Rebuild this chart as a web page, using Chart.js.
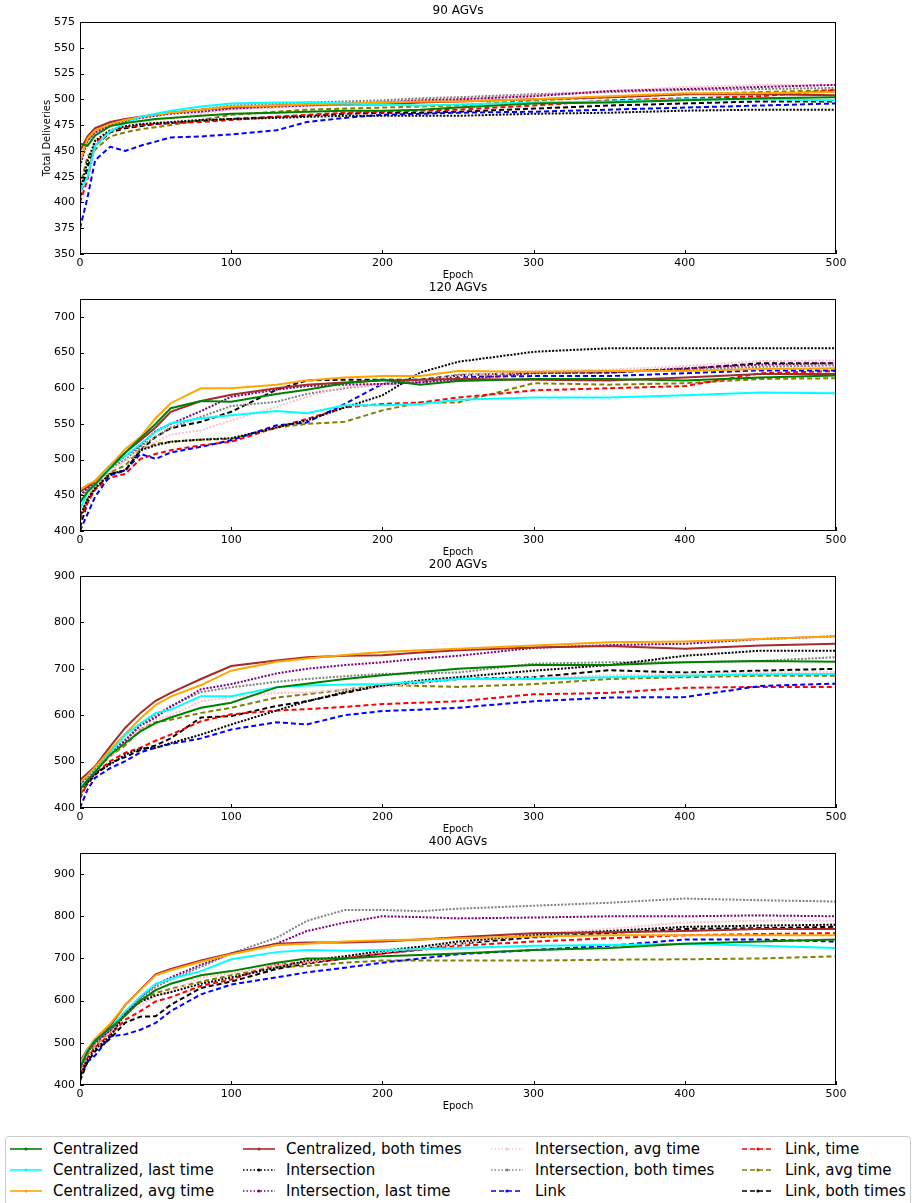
<!DOCTYPE html>
<html>
<head>
<meta charset="utf-8">
<script src="https://cdn.jsdelivr.net/npm/chart.js@4.4.0/dist/chart.umd.min.js"></script>
<style>
body { margin: 0; background: #fff; width: 912px; height: 1203px; position: relative; overflow: hidden; font-family: "DejaVu Sans", sans-serif; }
.panel { position: absolute; left: 0; width: 912px; height: 285px; }
#legend { position: absolute; left: 5px; top: 1136px; width: 906px; height: 80px; border: 1px solid #ccc; border-radius: 4px; box-sizing: border-box; }
.item { position: absolute; height: 20px; font-size: 15px; line-height: 20px; color: #000; white-space: nowrap; }
.swatch { position: absolute; }
</style>
</head>
<body>
<canvas id="panel0" class="panel" width="912" height="285" style="top:0px"></canvas>
<canvas id="panel1" class="panel" width="912" height="285" style="top:277px"></canvas>
<canvas id="panel2" class="panel" width="912" height="285" style="top:554px"></canvas>
<canvas id="panel3" class="panel" width="912" height="285" style="top:831px"></canvas>
<div id="legend"></div>
<script>
// Sampled epochs shared by every series
const EPOCHS = [0, 5, 10, 20, 30, 40, 50, 60, 80, 100, 130, 150, 175, 200, 225, 250, 300, 350, 400, 450, 500];
const X_TICKS = [0, 100, 200, 300, 400, 500];

const SERIES_NAMES = [
    'Centralized', 'Centralized, last time', 'Centralized, avg time', 'Centralized, both times',
    'Intersection', 'Intersection, last time', 'Intersection, avg time', 'Intersection, both times',
    'Link', 'Link, time', 'Link, avg time', 'Link, both times'
];
const SERIES_COLORS = ['#008000', '#00ffff', '#ffa500', '#a52a2a', '#000000', '#800080',
    '#ffc0cb', '#808080', '#0000ff', '#ff0000', '#808000', '#000000'];
const SERIES_STYLE = ['solid', 'solid', 'solid', 'solid', 'dotted', 'dotted',
    'dotted', 'dotted', 'dashed', 'dashed', 'dashed', 'dashed'];

// ---- 90 AGVs ----
const agv90Ticks = [350, 375, 400, 425, 450, 475, 500, 525, 550, 575];
const agv90Range = [350, 575];
const agv90Central     = [457, 455, 465, 474, 477, 479, 481, 482, 484, 486, 487, 488, 489, 489, 490, 492, 496, 497, 499, 501, 502];
const agv90CentralLast = [410, 425, 455, 469, 477, 483, 486, 489, 493, 496, 497, 497, 496, 495, 494, 495, 497, 498, 500, 500, 499];
const agv90CentralAvg  = [440, 462, 470, 476, 480, 483, 485, 487, 490, 493, 494, 495, 496, 497, 498, 498, 500, 503, 506, 506, 507];
const agv90CentralBoth = [450, 464, 472, 478, 481, 483, 485, 487, 490, 492, 494, 495, 495, 495, 497, 498, 500, 502, 505, 505, 504];
const agv90Inter       = [410, 440, 460, 470, 474, 476, 477, 478, 480, 481, 482, 483, 484, 484, 484, 484, 486, 487, 489, 490, 490];
const agv90InterLast   = [435, 460, 468, 475, 479, 482, 484, 486, 488, 491, 493, 494, 496, 497, 499, 500, 503, 508, 510, 512, 514];
const agv90InterAvg    = [445, 463, 469, 474, 477, 479, 480, 482, 486, 490, 492, 493, 495, 497, 499, 500, 504, 508, 512, 514, 514];
const agv90InterBoth   = [440, 460, 468, 476, 480, 483, 485, 487, 490, 494, 496, 497, 498, 499, 501, 502, 505, 507, 509, 510, 511];
const agv90Link        = [375, 405, 441, 454, 450, 455, 459, 463, 464, 466, 470, 478, 482, 485, 486, 487, 488, 490, 492, 494, 496];
const agv90LinkTime    = [400, 422, 458, 469, 473, 475, 476, 477, 478, 480, 483, 485, 487, 488, 489, 490, 494, 499, 501, 503, 509];
const agv90LinkAvg     = [415, 445, 451, 464, 468, 471, 473, 475, 480, 485, 488, 490, 491, 492, 493, 494, 499, 502, 505, 507, 509];
const agv90LinkBoth    = [405, 434, 455, 468, 472, 474, 476, 477, 479, 481, 483, 484, 486, 487, 487, 488, 491, 494, 496, 498, 498];

// ---- 120 AGVs ----
const agv120Ticks = [400, 450, 500, 550, 600, 650, 700];
const agv120Range = [400, 725];
const agv120Central     = [440, 455, 465, 488, 510, 530, 550, 572, 582, 581, 592, 598, 607, 612, 605, 610, 613, 613, 611, 615, 618];
const agv120CentralLast = [430, 455, 465, 490, 505, 522, 539, 551, 558, 562, 568, 565, 576, 576, 578, 584, 587, 587, 590, 594, 593];
const agv120CentralAvg  = [458, 465, 470, 492, 515, 532, 558, 579, 600, 600, 605, 611, 615, 617, 617, 624, 623, 624, 624, 627, 628];
const agv120CentralBoth = [455, 462, 470, 492, 510, 527, 545, 567, 582, 591, 600, 605, 608, 611, 612, 613, 612, 611, 615, 620, 620];
const agv120Inter       = [420, 445, 460, 480, 485, 513, 520, 525, 528, 530, 545, 555, 573, 590, 622, 637, 651, 656, 656, 656, 656];
const agv120InterLast   = [450, 460, 468, 490, 505, 520, 540, 550, 568, 588, 598, 603, 605, 606, 608, 612, 621, 622, 628, 633, 635];
const agv120InterAvg    = [440, 452, 462, 485, 498, 513, 525, 535, 541, 555, 574, 588, 602, 605, 610, 617, 624, 626, 631, 638, 639];
const agv120InterBoth   = [445, 458, 468, 488, 500, 518, 532, 545, 560, 575, 581, 592, 600, 606, 610, 619, 622, 624, 626, 630, 632];
const agv120Link        = [400, 424, 448, 478, 485, 508, 501, 510, 518, 527, 548, 552, 578, 606, 609, 616, 617, 617, 621, 625, 625];
const agv120LinkTime    = [415, 440, 458, 475, 480, 501, 508, 513, 520, 525, 545, 557, 573, 578, 580, 587, 597, 600, 603, 621, 624];
const agv120LinkAvg     = [420, 445, 462, 482, 492, 515, 522, 525, 528, 529, 545, 550, 553, 569, 580, 580, 607, 605, 607, 613, 614];
const agv120LinkBoth    = [405, 440, 460, 480, 485, 513, 532, 544, 553, 567, 598, 611, 612, 612, 612, 618, 622, 622, 627, 635, 635];

// ---- 200 AGVs ----
const agv200Ticks = [400, 500, 600, 700, 800, 900];
const agv200Range = [400, 900];
const agv200Central     = [440, 460, 478, 515, 540, 565, 583, 595, 616, 627, 660, 668, 678, 686, 693, 700, 708, 708, 714, 717, 715];
const agv200CentralLast = [445, 462, 480, 519, 558, 582, 605, 612, 641, 641, 660, 664, 666, 667, 672, 678, 678, 682, 685, 688, 689];
const agv200CentralAvg  = [455, 470, 488, 525, 560, 593, 622, 640, 665, 696, 715, 722, 730, 736, 740, 743, 750, 757, 759, 764, 770];
const agv200CentralBoth = [460, 475, 490, 533, 573, 605, 631, 648, 678, 706, 718, 725, 728, 729, 735, 740, 746, 749, 743, 750, 754];
const agv200Inter       = [440, 455, 475, 494, 515, 528, 530, 540, 558, 580, 610, 630, 650, 664, 675, 682, 696, 708, 728, 739, 739];
const agv200InterLast   = [450, 468, 485, 520, 545, 578, 595, 618, 656, 667, 690, 700, 708, 714, 722, 728, 745, 751, 754, 764, 770];
const agv200InterAvg    = [445, 460, 478, 512, 540, 570, 590, 600, 630, 639, 648, 649, 655, 661, 668, 678, 681, 686, 689, 692, 693];
const agv200InterBoth   = [450, 465, 482, 518, 548, 580, 600, 620, 650, 660, 672, 678, 684, 689, 690, 692, 711, 714, 714, 717, 725];
const agv200Link        = [400, 440, 465, 486, 501, 520, 530, 538, 550, 569, 585, 580, 600, 609, 612, 616, 630, 638, 639, 663, 668];
const agv200LinkTime    = [420, 455, 475, 501, 519, 530, 545, 558, 587, 602, 610, 613, 618, 624, 627, 630, 645, 648, 659, 661, 661];
const agv200LinkAvg     = [430, 455, 480, 512, 535, 570, 585, 590, 605, 616, 638, 645, 655, 665, 663, 661, 667, 678, 682, 685, 685];
const agv200LinkBoth    = [430, 452, 472, 497, 510, 525, 535, 550, 595, 598, 620, 630, 648, 664, 670, 678, 682, 697, 692, 696, 700];

// ---- 400 AGVs ----
const agv400Ticks = [400, 500, 600, 700, 800, 900];
const agv400Range = [400, 950];
const agv400Central     = [440, 480, 505, 535, 565, 600, 625, 640, 660, 670, 690, 700, 700, 705, 708, 712, 720, 725, 735, 740, 745];
const agv400CentralLast = [445, 482, 505, 535, 575, 610, 640, 652, 670, 698, 715, 720, 718, 720, 722, 725, 730, 732, 735, 730, 725];
const agv400CentralAvg  = [450, 485, 510, 545, 590, 625, 660, 672, 692, 710, 732, 735, 740, 743, 745, 748, 752, 755, 755, 755, 755];
const agv400CentralBoth = [455, 485, 508, 540, 590, 626, 662, 675, 695, 712, 735, 738, 738, 740, 745, 750, 760, 762, 765, 770, 770];
const agv400Inter       = [420, 460, 485, 515, 570, 598, 612, 620, 640, 655, 678, 695, 705, 718, 728, 740, 755, 765, 775, 778, 780];
const agv400InterLast   = [440, 478, 500, 530, 570, 608, 638, 655, 685, 712, 735, 765, 785, 800, 798, 795, 797, 800, 800, 802, 800];
const agv400InterAvg    = [440, 475, 498, 525, 565, 590, 610, 622, 655, 665, 685, 690, 705, 715, 725, 735, 758, 770, 785, 790, 790];
const agv400InterBoth   = [445, 478, 502, 528, 570, 605, 632, 650, 680, 712, 749, 789, 815, 815, 812, 818, 825, 832, 842, 838, 835];
const agv400Link        = [420, 455, 470, 515, 520, 531, 547, 575, 615, 638, 655, 667, 678, 690, 700, 710, 720, 730, 745, 745, 740];
const agv400LinkTime    = [425, 465, 490, 520, 555, 575, 598, 608, 635, 650, 686, 690, 700, 712, 720, 730, 740, 748, 755, 758, 760];
const agv400LinkAvg     = [435, 472, 495, 525, 568, 598, 618, 628, 645, 660, 680, 682, 690, 695, 695, 695, 695, 697, 698, 700, 705];
const agv400LinkBoth    = [410, 455, 480, 510, 548, 562, 563, 590, 630, 645, 675, 688, 700, 712, 722, 735, 750, 760, 770, 772, 775];

const panels = [
    { title: '90 AGVs', yTitle: 'Total Deliveries', ticks: agv90Ticks, range: agv90Range,
      series: [agv90Central, agv90CentralLast, agv90CentralAvg, agv90CentralBoth, agv90Inter, agv90InterLast,
               agv90InterAvg, agv90InterBoth, agv90Link, agv90LinkTime, agv90LinkAvg, agv90LinkBoth] },
    { title: '120 AGVs', yTitle: '', ticks: agv120Ticks, range: agv120Range,
      series: [agv120Central, agv120CentralLast, agv120CentralAvg, agv120CentralBoth, agv120Inter, agv120InterLast,
               agv120InterAvg, agv120InterBoth, agv120Link, agv120LinkTime, agv120LinkAvg, agv120LinkBoth] },
    { title: '200 AGVs', yTitle: '', ticks: agv200Ticks, range: agv200Range,
      series: [agv200Central, agv200CentralLast, agv200CentralAvg, agv200CentralBoth, agv200Inter, agv200InterLast,
               agv200InterAvg, agv200InterBoth, agv200Link, agv200LinkTime, agv200LinkAvg, agv200LinkBoth] },
    { title: '400 AGVs', yTitle: '', ticks: agv400Ticks, range: agv400Range,
      series: [agv400Central, agv400CentralLast, agv400CentralAvg, agv400CentralBoth, agv400Inter, agv400InterLast,
               agv400InterAvg, agv400InterBoth, agv400Link, agv400LinkTime, agv400LinkAvg, agv400LinkBoth] }
];

const DASHES = { solid: [], dotted: [2, 1.5], dashed: [5, 3] };
const FONT = '"DejaVu Sans", sans-serif';

// frame, inward ticks, panel title and axis titles (matplotlib look)
const panelDecor = {
    id: 'panelDecor',
    afterDraw(chart, args, opts) {
        const { ctx, chartArea: a, scales } = chart;
        ctx.save();
        ctx.strokeStyle = '#000';
        ctx.lineWidth = 1;
        ctx.strokeRect(a.left + 0.5, a.top + 0.5, a.right - a.left - 1, a.bottom - a.top - 1);
        ctx.beginPath();
        scales.x.ticks.forEach(t => {
            const px = Math.round(scales.x.getPixelForValue(t.value)) + 0.5;
            ctx.moveTo(px, a.bottom);
            ctx.lineTo(px, a.bottom - 4);
        });
        scales.y.ticks.forEach(t => {
            const py = Math.round(scales.y.getPixelForValue(t.value)) + 0.5;
            ctx.moveTo(a.left, py);
            ctx.lineTo(a.left + 4, py);
        });
        ctx.stroke();

        ctx.fillStyle = '#000';
        ctx.textAlign = 'center';
        ctx.textBaseline = 'middle';
        const cx = (a.left + a.right) / 2;
        ctx.font = '12px ' + FONT;
        ctx.fillText(opts.title, cx, 11);
        ctx.font = '10px ' + FONT;
        ctx.fillText('Epoch', cx, 275);
        if (opts.yTitle) {
            ctx.translate(47, (a.top + a.bottom) / 2);
            ctx.rotate(-Math.PI / 2);
            ctx.fillText(opts.yTitle, 0, 0);
        }
        ctx.restore();
    }
};

function renderPanel(cfg, idx) {
    const canvas = document.getElementById('panel' + idx);
    const datasets = cfg.series.map((vals, i) => ({
        label: SERIES_NAMES[i],
        data: EPOCHS.map((e, k) => ({ x: e, y: vals[k] })),
        borderColor: SERIES_COLORS[i],
        backgroundColor: SERIES_COLORS[i],
        borderWidth: 2,
        borderDash: DASHES[SERIES_STYLE[i]],
        pointRadius: 0,
        tension: 0,
        fill: false
    }));

    new Chart(canvas, {
        type: 'line',
        data: { datasets: datasets },
        options: {
            responsive: false,
            animation: false,
            devicePixelRatio: 1,
            layout: { padding: { top: 22, right: 76, left: 0, bottom: 0 } },
            plugins: {
                legend: { display: false },
                tooltip: { enabled: false },
                panelDecor: { title: cfg.title, yTitle: cfg.yTitle }
            },
            scales: {
                x: {
                    type: 'linear',
                    min: 0,
                    max: 500,
                    grid: { display: false, drawTicks: false },
                    border: { display: false },
                    afterBuildTicks: s => { s.ticks = X_TICKS.map(v => ({ value: v })); },
                    afterFit: s => { s.height = 31; },
                    ticks: { padding: 3, maxRotation: 0, color: '#000', font: { family: FONT, size: 11 } }
                },
                y: {
                    type: 'linear',
                    min: cfg.range[0],
                    max: cfg.range[1],
                    grid: { display: false, drawTicks: false },
                    border: { display: false },
                    afterBuildTicks: s => { s.ticks = cfg.ticks.map(v => ({ value: v })); },
                    afterFit: s => { s.width = 80; },
                    ticks: { padding: 5, color: '#000', font: { family: FONT, size: 11 } }
                }
            }
        },
        plugins: [panelDecor]
    });
}

panels.forEach(renderPanel);

// Legend (4 columns x 3 rows, column-major like matplotlib)
const legendLineX = [10, 243, 491, 742];
const legendTextX = [53, 286, 535, 785];
const legendRowY = [1149, 1170, 1191];
const svgDash = { solid: '', dotted: '1.5 2', dashed: '5 3' };
SERIES_NAMES.forEach((name, i) => {
    const col = Math.floor(i / 3), row = i % 3;
    const sw = document.createElementNS('http://www.w3.org/2000/svg', 'svg');
    sw.setAttribute('width', '32');
    sw.setAttribute('height', '10');
    sw.setAttribute('class', 'swatch');
    sw.style.left = legendLineX[col] + 'px';
    sw.style.top = (legendRowY[row] - 5) + 'px';
    sw.innerHTML = `<line x1="0" y1="5" x2="32" y2="5" stroke="${SERIES_COLORS[i]}" stroke-width="1.6"` +
        (svgDash[SERIES_STYLE[i]] ? ` stroke-dasharray="${svgDash[SERIES_STYLE[i]]}"` : '') + '/>' +
        `<circle cx="16" cy="5" r="1.6" fill="${SERIES_COLORS[i]}"/>`;
    document.body.appendChild(sw);

    const label = document.createElement('div');
    label.className = 'item';
    label.style.left = legendTextX[col] + 'px';
    label.style.top = (legendRowY[row] - 10) + 'px';
    label.textContent = name;
    document.body.appendChild(label);
});
</script>
</body>
</html>
